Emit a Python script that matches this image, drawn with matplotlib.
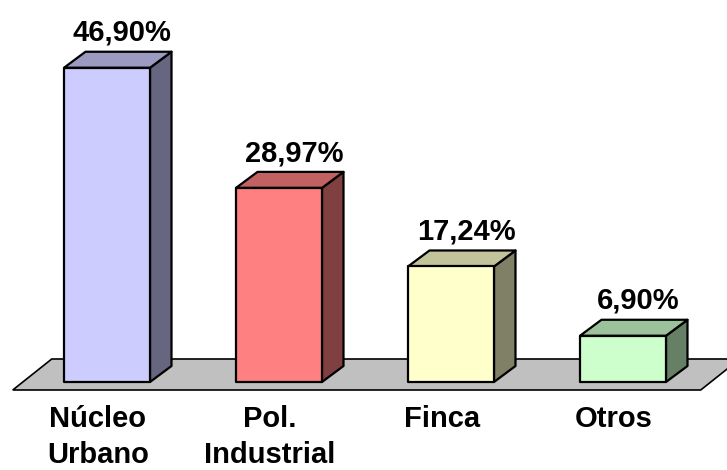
import matplotlib
matplotlib.use("Agg")
import matplotlib.pyplot as plt
from matplotlib.patches import Polygon
from matplotlib.colors import to_rgb

categories = ["Núcleo\nUrbano", "Pol.\nIndustrial", "Finca", "Otros"]
values = [46.90, 28.97, 17.24, 6.90]
value_labels = ["46,90%", "28,97%", "17,24%", "6,90%"]
front_colors = ["#CCCCFF", "#FF8080", "#FFFFCC", "#CCFFCC"]

plt.rcParams['font.family'] = ['Liberation Sans', 'DejaVu Sans']

fig = plt.figure(figsize=(7.27, 4.70), dpi=100)
ax = fig.add_axes([0, 0, 1, 1])
ax.set_xlim(-0.6221, 3.6047)
ax.set_ylim(-13.134, 57.01)
ax.axis('off')

px_per_x = 172.0
px_per_y = 6.70
dx = 21.5 / px_per_x
dy = 16.0 / px_per_y
half_w = 0.25

# floor
fl_front, fl_back = -1.194, 3.433
fl_left, fl_right = -0.548, 3.452
fl_dx = 39.0 / px_per_x
ax.add_patch(Polygon([(fl_left, fl_front), (fl_right, fl_front),
                      (fl_right + fl_dx, fl_back), (fl_left + fl_dx, fl_back)],
                     closed=True, facecolor="#C0C0C0", edgecolor="black",
                     linewidth=1.2, zorder=1, clip_on=False))

def shade(c, f):
    r, g, b = to_rgb(c)
    return (r * f, g * f, b * f)

lw = 1.6
for i, (v, c) in enumerate(zip(values, front_colors)):
    x0, x1 = i - half_w, i + half_w
    # side face
    ax.add_patch(Polygon([(x1, 0), (x1 + dx, dy), (x1 + dx, v + dy), (x1, v)],
                         closed=True, facecolor=shade(c, 0.5), edgecolor="black",
                         linewidth=lw, joinstyle='round', zorder=2))
    # top face
    ax.add_patch(Polygon([(x0, v), (x1, v), (x1 + dx, v + dy), (x0 + dx, v + dy)],
                         closed=True, facecolor=shade(c, 0.76), edgecolor="black",
                         linewidth=lw, joinstyle='round', zorder=2))
    # front face
    ax.add_patch(Polygon([(x0, 0), (x1, 0), (x1, v), (x0, v)],
                         closed=True, facecolor=c, edgecolor="black",
                         linewidth=lw, joinstyle='round', zorder=3))
    # value label
    ax.annotate(value_labels[i], xy=(i + 15.0 / px_per_x, v + dy),
                xytext=(0, 7.8), textcoords='offset points',
                ha='center', va='baseline', fontsize=21, fontweight='bold',
                zorder=4)

# category labels
for i, lab in enumerate(categories):
    for j, line in enumerate(lab.split("\n")):
        ax.annotate(line, xy=(i - 9.0 / px_per_x, -45.0 / px_per_y),
                    xytext=(0, -j * 36.5 * 0.72), textcoords='offset points',
                    ha='center', va='baseline', fontsize=21, fontweight='bold')

fig.savefig("out.png", dpi=100)
